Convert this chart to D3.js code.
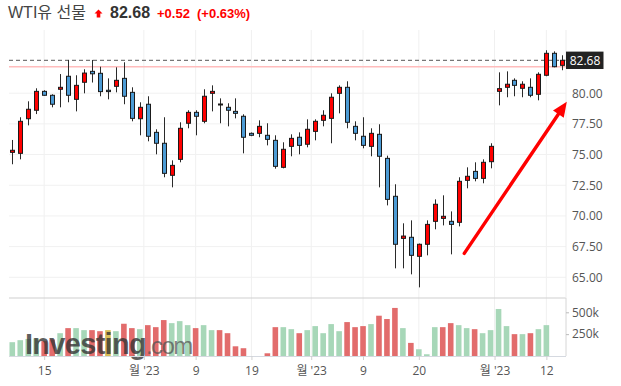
<!DOCTYPE html>
<html><head><meta charset="utf-8">
<script src="https://cdn.jsdelivr.net/npm/d3@7"></script>
<style>body{margin:0;background:#fff;} svg{display:block;}</style>
</head><body><svg id="c" width="621" height="386"></svg>
<script>
// ---------------- DATA ----------------
const title = "WTI유 선물";
const lastPrice = 82.68, prevClose = 82.16, change = 0.52, changePct = 0.63;
const dates = [
 "01-10","01-11","01-12","01-13","01-15","01-16","01-17","01-18","01-19","01-20","01-23","01-24","01-25","01-26","01-27","01-30","01-31",
 "02-01","02-02","02-03","02-06","02-07","02-08","02-09","02-10","02-13","02-14","02-15","02-16","02-17","02-19","02-20","02-21","02-22","02-23","02-24","02-27","02-28",
 "03-01","03-02","03-03","03-06","03-07","03-08","03-09","03-10","03-13","03-14","03-15","03-16","03-17","03-20","03-21","03-22","03-23","03-24","03-27","03-28","03-29","03-30","03-31",
 "04-03","04-04","04-05","04-06","04-10","04-11","04-12","04-13","04-14"];
const open = [75.18,75.10,77.92,78.61,80.15,79.83,80.32,81.38,79.50,80.89,81.78,81.62,80.24,80.56,81.21,80.07,77.92,
 79.10,76.81,75.92,73.31,74.61,77.55,78.44,77.71,79.99,79.12,78.85,78.52,78.12,76.73,76.73,76.57,76.16,73.96,75.67,76.41,75.84,
 76.89,77.79,77.95,79.99,80.48,77.30,76.49,75.67,76.65,74.69,71.60,68.17,68.26,66.71,67.69,69.56,69.80,69.56,69.48,72.90,73.63,73.06,74.42,
 80.15,80.48,81.05,80.40,80.48,79.91,81.46,83.25,82.27];
const high = [76.19,78.04,79.34,80.40,80.24,79.91,81.56,82.71,81.46,81.95,82.71,82.16,81.21,82.11,82.52,80.48,79.26,
 79.75,77.06,78.04,74.53,77.63,78.61,78.61,80.32,80.64,79.58,79.18,79.58,78.28,76.80,77.79,77.55,76.57,76.00,76.65,76.81,77.87,
 77.87,78.61,79.99,80.64,80.97,77.71,78.04,77.14,77.47,74.91,72.58,69.40,69.64,67.75,69.64,71.35,71.68,70.37,73.15,73.96,74.37,74.61,75.92,
 81.70,81.78,81.21,80.97,81.21,81.70,83.50,83.41,83.09];
const low = [74.21,74.61,77.38,78.30,79.80,78.85,78.85,79.26,78.52,79.99,80.87,79.75,79.50,80.07,79.10,77.71,76.57,
 76.08,75.02,73.15,72.33,74.37,77.14,76.57,77.55,78.52,77.55,77.30,77.95,75.10,76.50,76.41,75.75,73.85,73.88,74.86,75.02,75.59,
 76.16,77.30,75.92,78.36,77.14,76.16,75.51,74.86,72.33,70.86,65.73,65.73,65.24,64.18,66.79,68.91,69.23,66.87,69.15,72.25,72.82,72.66,73.88,
 79.01,79.67,79.75,79.67,79.67,79.42,81.38,82.11,81.87];
const close = [75.35,77.71,78.69,80.15,79.83,79.10,80.48,79.83,80.64,81.64,81.58,80.13,80.13,81.05,79.75,77.95,78.85,
 76.49,75.92,73.47,74.12,77.14,78.44,78.12,79.75,80.15,79.10,78.61,78.36,76.41,76.57,77.30,76.24,74.04,75.43,76.32,75.75,77.06,
 77.71,78.20,79.67,80.48,77.63,76.73,75.75,76.73,74.86,71.35,67.69,68.36,66.79,67.69,69.31,70.95,69.97,69.31,72.82,73.23,73.06,74.37,75.67,
 80.37,80.73,80.64,80.73,79.83,81.54,83.25,82.16,82.68];
const volume = [158000,181000,195000,200000,170000,190000,261000,319000,319000,296000,296000,284000,296000,284000,369000,319000,307000,
 353000,330000,411000,376000,399000,353000,319000,353000,296000,296000,261000,111000,89000,0,0,31000,330000,330000,307000,261000,296000,
 342000,261000,365000,284000,388000,330000,342000,365000,461000,423000,550000,319000,150000,77000,20000,330000,330000,376000,353000,319000,307000,261000,296000,
 538000,342000,250000,250000,261000,307000,353000,null,null];
const tickDates  = ["01-15","02-01","02-09","02-19","03-01","03-09","03-20","04-03","04-12"];
const tickLabels = ["15","월 '23","9","19","월 '23","9","20","월 '23","12"];
const tickIsMonth = [false,true,false,false,true,false,false,true,false];
const priceTicks = [65,67.5,70,72.5,75,77.5,80];
const volTicks = [250000,500000];
const arrowStart = {idx:56.7, value:66.95};
const arrowEnd   = {idx:69.56, value:79.31};

// ---------------- CHART ----------------
const svg = d3.select("#c");
const L = 8.3, R = 566.3, axisX = 566;
const priceTop = 30, priceBottom = 298, volBottom = 356;
const UP = "#ff0000", DOWN = "#4c9bd5";
const VUP = "#a7d7b8", VDOWN = "#e26c6c", VEQ = "#d8bd55";

const x = d3.scaleLinear().domain([-0.5, dates.length - 0.5]).range([L, R]);
const step = x(1) - x(0);
const y = d3.scaleLinear().domain([65, 80]).range([277.3, 93.2]);
const yv = d3.scaleLinear().domain([0, 500000]).range([volBottom, 312.3]);

const tickVals = tickDates.map((d,k) => dates.indexOf(d) - (tickIsMonth[k] ? 0.5 : 0));

// vertical grid
svg.append("g").selectAll("line").data(tickVals).join("line")
  .attr("x1", d => x(d)).attr("x2", d => x(d))
  .attr("y1", priceTop).attr("y2", volBottom)
  .attr("stroke", "#f0f0f0").attr("stroke-width", 1);

// horizontal grid
svg.append("g").selectAll("line").data(priceTicks).join("line")
  .attr("x1", 9).attr("x2", axisX)
  .attr("y1", d => y(d)).attr("y2", d => y(d))
  .attr("stroke", "#f1f1f1").attr("stroke-width", 1);

// prev close line
svg.append("line").attr("x1", 9).attr("x2", axisX)
  .attr("y1", y(prevClose)).attr("y2", y(prevClose))
  .attr("stroke", "#ffbcbc").attr("stroke-width", 1.6);
// last price dashed line
svg.append("line").attr("x1", 9).attr("x2", axisX)
  .attr("y1", y(lastPrice)).attr("y2", y(lastPrice))
  .attr("stroke", "#555").attr("stroke-width", 1).attr("stroke-dasharray", "4,3");

// panel borders
svg.append("line").attr("x1", 9).attr("x2", axisX).attr("y1", priceBottom).attr("y2", priceBottom)
  .attr("stroke", "#cfcfcf").attr("stroke-width", 1.2);
svg.append("line").attr("x1", axisX).attr("x2", axisX).attr("y1", priceTop).attr("y2", priceBottom)
  .attr("stroke", "#ededed");
svg.append("line").attr("x1", axisX).attr("x2", axisX).attr("y1", priceBottom).attr("y2", volBottom)
  .attr("stroke", "#d6d6d6");

// volume bars
const vw = 5.6;
const vdata = volume.map((v,i) => ({i, v, c: close[i], p: i > 0 ? close[i-1] : open[i]})).filter(d => d.v);
svg.append("g").selectAll("rect").data(vdata).join("rect")
  .attr("x", d => x(d.i) - vw/2).attr("width", vw)
  .attr("y", d => yv(d.v)).attr("height", d => volBottom - yv(d.v))
  .attr("fill", d => d.c > d.p ? VUP : (d.c < d.p ? VDOWN : VEQ));

// watermark
const wm = svg.append("text").attr("x", 25).attr("y", 354)
  .attr("font-family", "Liberation Sans, Arial, sans-serif");
wm.append("tspan").text("Investing").attr("font-size", 29).attr("font-weight", "bold")
  .attr("letter-spacing", -0.7).attr("fill", "#333").attr("fill-opacity", 0.78);
wm.append("tspan").text(".com").attr("font-size", 24).attr("letter-spacing", -1.6)
  .attr("fill", "#555").attr("fill-opacity", 0.75);

// candles
const bw = 4;
const cdata = dates.map((d,i) => ({i, o: open[i], h: high[i], l: low[i], c: close[i]}));
const cg = svg.append("g");
cg.selectAll("line").data(cdata).join("line")
  .attr("x1", d => Math.round(x(d.i)) + 0.5).attr("x2", d => Math.round(x(d.i)) + 0.5)
  .attr("y1", d => y(d.h)).attr("y2", d => y(d.l))
  .attr("stroke", "#2a2a2a").attr("stroke-width", 1);
cg.selectAll("rect").data(cdata).join("rect")
  .attr("x", d => Math.round(x(d.i)) + 0.5 - bw/2).attr("width", bw)
  .attr("y", d => y(Math.max(d.o, d.c)))
  .attr("height", d => Math.max(1, Math.abs(y(d.o) - y(d.c))))
  .attr("fill", d => d.c >= d.o ? UP : DOWN)
  .attr("stroke", "#1a1a1a").attr("stroke-width", 1);

// arrow annotation
const ax1 = x(arrowStart.idx), ay1 = y(arrowStart.value);
const ax2 = x(arrowEnd.idx), ay2 = y(arrowEnd.value);
const len = Math.hypot(ax2 - ax1, ay2 - ay1);
const ux = (ax2 - ax1) / len, uy = (ay2 - ay1) / len;
const hl = 15, hw = 6.5;
const bx = ax2 - ux * hl, by = ay2 - uy * hl;
svg.append("line").attr("x1", ax1).attr("y1", ay1).attr("x2", bx + ux*2).attr("y2", by + uy*2)
  .attr("stroke", "#ff0000").attr("stroke-width", 3.4).attr("stroke-linecap", "round");
svg.append("path")
  .attr("d", `M${ax2},${ay2}L${bx - uy*hw},${by + ux*hw}L${bx + uy*hw},${by - ux*hw}Z`)
  .attr("fill", "#ff0000");

// price axis
const pa = svg.append("g").attr("transform", `translate(${axisX},0)`)
  .call(d3.axisRight(y).tickValues(priceTicks).tickFormat(d3.format(".2f")).tickSize(0).tickPadding(6));
pa.select(".domain").remove();
pa.selectAll("text").attr("font-family", "Open Sans, sans-serif").attr("font-size", 12).attr("fill", "#555");

// volume axis
const va = svg.append("g").attr("transform", `translate(${axisX},0)`)
  .call(d3.axisRight(yv).tickValues(volTicks).tickFormat(d => d/1000 + "k").tickSize(3).tickPadding(3));
va.select(".domain").remove();
va.selectAll("line").attr("stroke", "#bbb");
va.selectAll("text").attr("font-family", "Open Sans, sans-serif").attr("font-size", 12).attr("fill", "#555");

// x axis
const xa = svg.append("g").attr("transform", `translate(0,${volBottom})`)
  .call(d3.axisBottom(x).tickValues(tickVals).tickFormat((d,k) => tickLabels[k]).tickSize(4).tickPadding(6));
xa.select(".domain").attr("d", `M9,0.5H${axisX}`).attr("stroke", "#d5d9e0");
xa.selectAll("line").attr("stroke", "#d0d0d0");
xa.selectAll("text").attr("font-family", "Open Sans, Noto Sans CJK KR, sans-serif").attr("font-size", 12).attr("fill", "#555");

// last price label
const ly = y(lastPrice);
svg.append("rect").attr("x", axisX).attr("y", ly - 8.7).attr("width", 37.5).attr("height", 17.4).attr("fill", "#222");
svg.append("text").attr("x", axisX + 19).attr("y", ly + 4.3).attr("text-anchor", "middle")
  .attr("font-family", "Open Sans, sans-serif").attr("font-size", 12).attr("fill", "#fff")
  .text(lastPrice.toFixed(2));

// title
const tf = "Liberation Sans, Arial, Noto Sans CJK KR, sans-serif";
svg.append("text").attr("x", 8).attr("y", 18.3).attr("font-family", tf).attr("font-size", 16)
  .attr("fill", "#444").text(title);
svg.append("path").attr("d", "M98.5,9.5L102.5,13.6H100.3V17.5H96.7V13.6H94.5Z").attr("fill", "#ff0000");
svg.append("text").attr("x", 110).attr("y", 18.3).attr("font-family", tf).attr("font-size", 16)
  .attr("font-weight", "bold").attr("fill", "#333").text(lastPrice.toFixed(2));
svg.append("text").attr("x", 157).attr("y", 18.3).attr("font-family", tf).attr("font-size", 13)
  .attr("font-weight", "bold").attr("fill", "#f00").text("+" + change.toFixed(2));
svg.append("text").attr("x", 197).attr("y", 18.3).attr("font-family", tf).attr("font-size", 13)
  .attr("font-weight", "bold").attr("fill", "#f00").text("(+" + changePct.toFixed(2) + "%)");
</script></body></html>
